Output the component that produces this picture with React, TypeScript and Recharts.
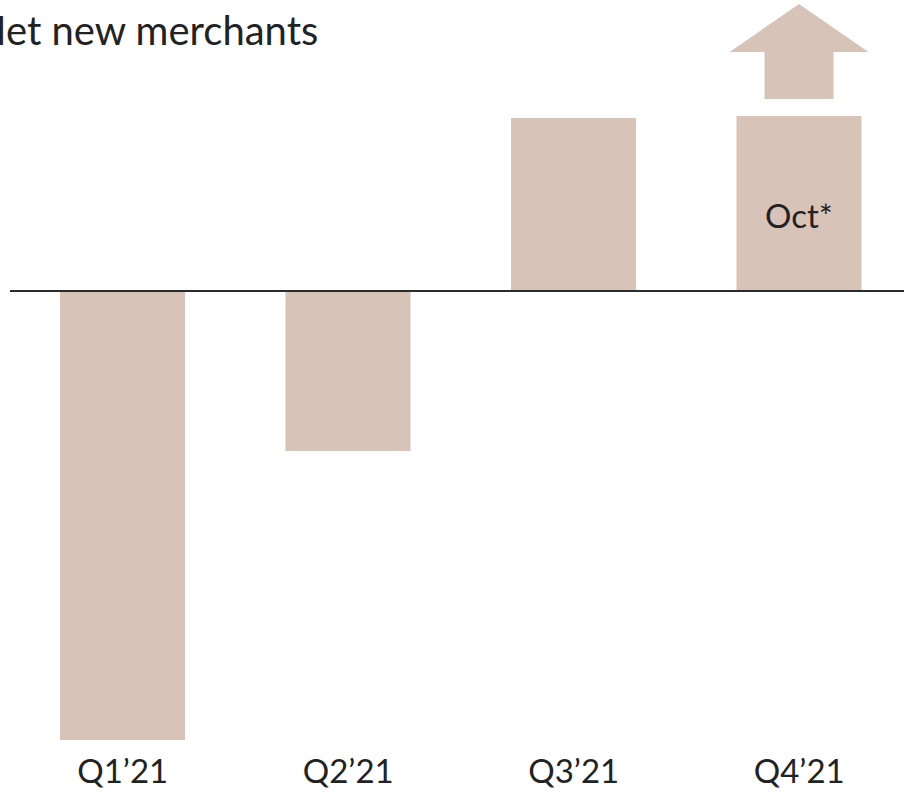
import { BarChart, Bar, XAxis, YAxis, ReferenceLine, LabelList } from 'recharts';

const quarters = ['Q1\u201921', 'Q2\u201921', 'Q3\u201921', 'Q4\u201921'];
const netNew = [-449, -160, 173, 175];
const notes = ['', '', '', 'Oct*'];
const trend = ['', '', '', 'up'];

const data = quarters.map((q, i) => ({ q, value: netNew[i], note: notes[i], trend: trend[i] }));

const BAR = '#d8c3b9';
const INK = '#222222';
const FONT = 'Lato, "Noto Sans", sans-serif';

// draws the bar, plus an "up" arrow above it when the row says so
function BarShape(props: any) {
  const { x, y, width, height, payload } = props;
  const top = Math.min(y, y + height);
  const h = Math.abs(height);
  const cx = x + width / 2;
  return (
    <g>
      <rect x={x} y={top} width={width} height={h} fill={BAR} />
      {payload.trend === 'up' && (
        <polygon
          fill={BAR}
          points={[
            [cx - 34.5, top - 17],
            [cx + 34.5, top - 17],
            [cx + 34.5, top - 64],
            [cx + 69.5, top - 64],
            [cx, top - 112],
            [cx - 69.5, top - 64],
            [cx - 34.5, top - 64],
          ]
            .map((p) => p.join(','))
            .join(' ')}
        />
      )}
    </g>
  );
}

function NoteLabel(props: any) {
  const { x, y, width, height, value } = props;
  if (!value) return null;
  return (
    <text
      x={x + width / 2}
      y={y + height / 2 + 11}
      textAnchor="middle"
      dominantBaseline="central"
      fontFamily={FONT}
      fontSize={33}
      fill={INK}
    >
      {value}
    </text>
  );
}

export default function App() {
  return (
    <>
      <style>{'html,body{margin:0;padding:0;overflow:hidden;background:#fff}'}</style>
      <div style={{ position: 'relative', width: 904, height: 796, overflow: 'hidden', background: '#fff' }}>
        <div
          style={{
            position: 'absolute',
            left: -24,
            top: 10,
            fontFamily: FONT,
            fontSize: 40,
            color: INK,
            whiteSpace: 'nowrap',
            lineHeight: 1,
            zIndex: 1,
          }}
        >
          Net new merchants
        </div>
        <BarChart width={912} height={796} data={data} margin={{ top: 0, right: 0, left: 10, bottom: 0 }}>
          <XAxis
            dataKey="q"
            axisLine={false}
            tickLine={false}
            height={56}
            tickMargin={14}
            tick={{ fill: INK, fontSize: 33, fontFamily: FONT }}
            interval={0}
          />
          <YAxis hide domain={[-449, 291]} allowDataOverflow />
          <ReferenceLine y={0} stroke="#2b2b2b" strokeWidth={2} />
          <Bar dataKey="value" barSize={125} shape={<BarShape />} isAnimationActive={false}>
            <LabelList dataKey="note" content={<NoteLabel />} />
          </Bar>
        </BarChart>
      </div>
    </>
  );
}
